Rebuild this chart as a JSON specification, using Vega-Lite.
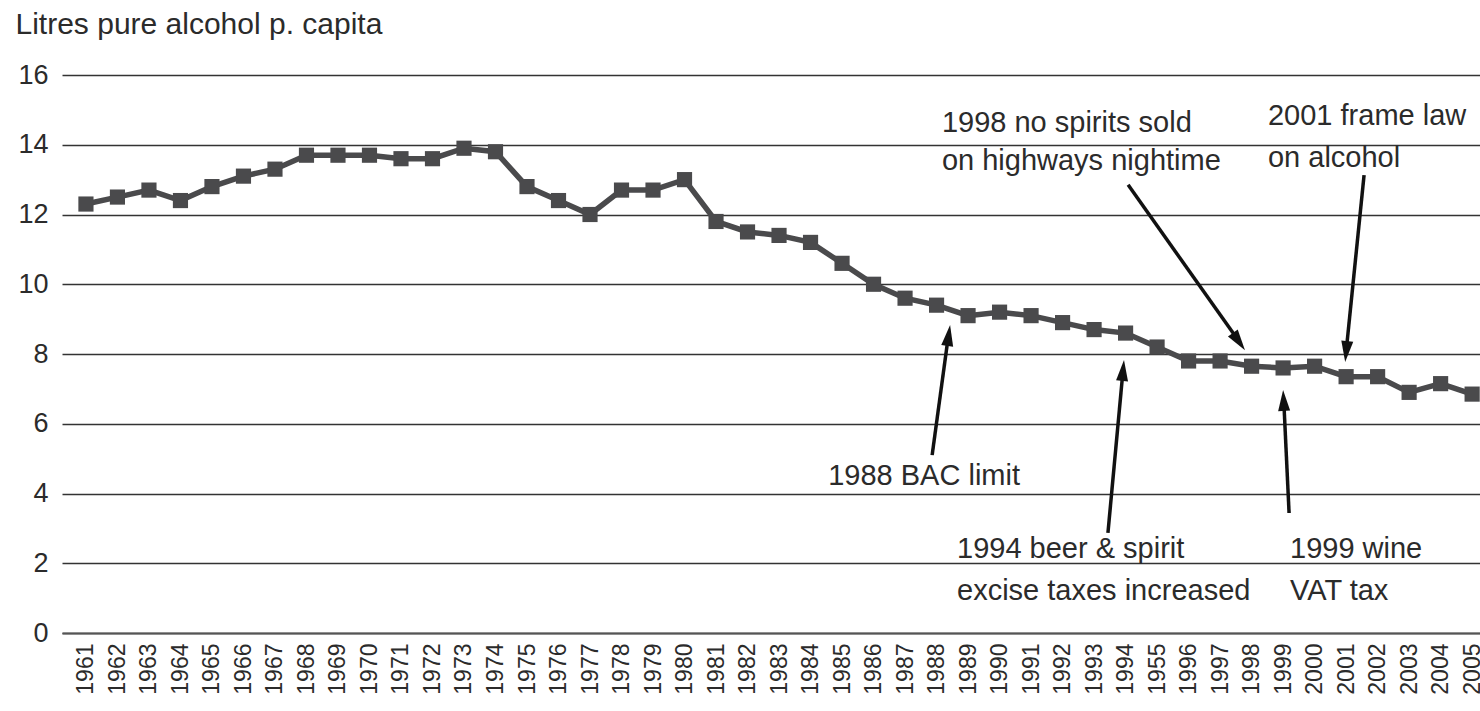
{
  "$schema": "https://vega.github.io/schema/vega-lite/v6.json",
  "width": 1418,
  "height": 558,
  "autosize": {"type": "none"},
  "padding": {"left": 62, "top": 75, "right": 0, "bottom": 78},
  "background": "white",
  "config": {
    "view": {"stroke": null},
    "font": "Liberation Sans",
    "text": {"font": "Liberation Sans"},
    "axisX": {"labelOverlap": false, "labelFontSize": 23, "labelAngle": 270, "labelFlush": false, "labelBound": false, "tickCount": 60}
  },
  "datasets": {
    "consumption": [
      {"year": 1961, "litres": 12.3}, {"year": 1962, "litres": 12.5}, {"year": 1963, "litres": 12.7},
      {"year": 1964, "litres": 12.4}, {"year": 1965, "litres": 12.8}, {"year": 1966, "litres": 13.1},
      {"year": 1967, "litres": 13.3}, {"year": 1968, "litres": 13.7}, {"year": 1969, "litres": 13.7},
      {"year": 1970, "litres": 13.7}, {"year": 1971, "litres": 13.6}, {"year": 1972, "litres": 13.6},
      {"year": 1973, "litres": 13.9}, {"year": 1974, "litres": 13.8}, {"year": 1975, "litres": 12.8},
      {"year": 1976, "litres": 12.4}, {"year": 1977, "litres": 12.0}, {"year": 1978, "litres": 12.7},
      {"year": 1979, "litres": 12.7}, {"year": 1980, "litres": 13.0}, {"year": 1981, "litres": 11.8},
      {"year": 1982, "litres": 11.5}, {"year": 1983, "litres": 11.4}, {"year": 1984, "litres": 11.2},
      {"year": 1985, "litres": 10.6}, {"year": 1986, "litres": 10.0}, {"year": 1987, "litres": 9.6},
      {"year": 1988, "litres": 9.4}, {"year": 1989, "litres": 9.1}, {"year": 1990, "litres": 9.2},
      {"year": 1991, "litres": 9.1}, {"year": 1992, "litres": 8.9}, {"year": 1993, "litres": 8.7},
      {"year": 1994, "litres": 8.6}, {"year": 1995, "litres": 8.2}, {"year": 1996, "litres": 7.8},
      {"year": 1997, "litres": 7.8}, {"year": 1998, "litres": 7.65}, {"year": 1999, "litres": 7.6},
      {"year": 2000, "litres": 7.65}, {"year": 2001, "litres": 7.35}, {"year": 2002, "litres": 7.35},
      {"year": 2003, "litres": 6.9}, {"year": 2004, "litres": 7.15}, {"year": 2005, "litres": 6.85}
    ],
    "arrows": [
      {"x": 1987.86, "y": 5.10, "x2": 1988.38, "y2": 8.55, "tx": 1988.43, "ty": 8.83, "angle": 7.9},
      {"x": 1993.44, "y": 2.87, "x2": 1993.92, "y2": 7.54, "tx": 1993.95, "ty": 7.83, "angle": 5.3},
      {"x": 1999.19, "y": 3.44, "x2": 1999.02, "y2": 6.68, "tx": 1999.0, "ty": 6.97, "angle": -2.8},
      {"x": 1994.08, "y": 12.85, "x2": 1997.61, "y2": 8.35, "tx": 1997.79, "ty": 8.11, "angle": 144.7},
      {"x": 2001.57, "y": 13.13, "x2": 2001.0, "y2": 8.06, "tx": 2000.97, "ty": 7.77, "angle": 185.8}
    ],
    "labels": [
      {"x": 1988.17, "y": 14.37, "text": "1998 no spirits sold"},
      {"x": 1988.17, "y": 13.28, "text": "on highways nightime"},
      {"x": 1998.52, "y": 14.57, "text": "2001 frame law"},
      {"x": 1998.52, "y": 13.36, "text": "on alcohol"},
      {"x": 1984.56, "y": 4.24, "text": "1988 BAC limit"},
      {"x": 1988.65, "y": 2.15, "text": "1994 beer & spirit"},
      {"x": 1988.65, "y": 0.95, "text": "excise taxes increased"},
      {"x": 1999.22, "y": 2.15, "text": "1999 wine"},
      {"x": 1999.22, "y": 0.95, "text": "VAT tax"}
    ]
  },
  "layer": [
    {
      "data": {"name": "consumption"},
      "mark": {"type": "line", "color": "#4a4a4c", "strokeWidth": 5.5, "clip": false},
      "encoding": {
        "x": {
          "field": "year", "type": "quantitative",
          "scale": {"domain": [1960.24, 2005.25], "nice": false, "zero": false},
          "axis": {
            "title": null,
            "values": [1961,1962,1963,1964,1965,1966,1967,1968,1969,1970,1971,1972,1973,1974,1975,1976,1977,1978,1979,1980,1981,1982,1983,1984,1985,1986,1987,1988,1989,1990,1991,1992,1993,1994,1995,1996,1997,1998,1999,2000,2001,2002,2003,2004,2005],
            "tickCount": 60,
            "format": "d",
            "labelExpr": "datum.value == 1995 ? '1955' : datum.label",
            "labelAngle": 270,
            "labelFontSize": 23,
            "labelColor": "#2b2b2b",
            "labelPadding": 10,
            "labelOverlap": false,
            "labelFlush": false,
            "labelBound": false,
            "ticks": false,
            "grid": false,
            "domain": true,
            "domainColor": "#555555",
            "domainWidth": 2
          }
        },
        "y": {
          "field": "litres", "type": "quantitative",
          "scale": {"domain": [0, 16], "nice": false},
          "axis": {
            "title": "Litres pure alcohol p. capita",
            "titleAngle": 0,
            "titleAlign": "left",
            "titleBaseline": "alphabetic",
            "titleX": -47,
            "titleY": -42,
            "titleFontSize": 30,
            "titleFontWeight": "normal",
            "titleColor": "#2b2b2b",
            "values": [0, 2, 4, 6, 8, 10, 12, 14, 16],
            "labelFontSize": 27,
            "labelColor": "#2b2b2b",
            "labelPadding": 14,
            "ticks": false,
            "domain": false,
            "grid": true,
            "gridColor": "#333333",
            "gridWidth": 1.3
          }
        }
      }
    },
    {
      "data": {"name": "consumption"},
      "mark": {"type": "point", "shape": "square", "filled": true, "size": 230, "color": "#4a4a4c", "opacity": 1, "clip": false},
      "encoding": {
        "x": {"field": "year", "type": "quantitative"},
        "y": {"field": "litres", "type": "quantitative"}
      }
    },
    {
      "data": {"name": "arrows"},
      "mark": {"type": "rule", "color": "#111111", "strokeWidth": 3.5},
      "encoding": {
        "x": {"field": "x", "type": "quantitative"},
        "y": {"field": "y", "type": "quantitative"},
        "x2": {"field": "x2"},
        "y2": {"field": "y2"}
      }
    },
    {
      "data": {"name": "arrows"},
      "mark": {"type": "point", "shape": "M0,0L0.6,2.1L-0.6,2.1Z", "filled": true, "size": 400, "color": "#111111", "opacity": 1},
      "encoding": {
        "x": {"field": "tx", "type": "quantitative"},
        "y": {"field": "ty", "type": "quantitative"},
        "angle": {"field": "angle", "type": "quantitative", "scale": null}
      }
    },
    {
      "data": {"name": "labels"},
      "mark": {"type": "text", "align": "left", "baseline": "alphabetic", "fontSize": 29, "color": "#2b2b2b", "clip": false},
      "encoding": {
        "x": {"field": "x", "type": "quantitative"},
        "y": {"field": "y", "type": "quantitative"},
        "text": {"field": "text"}
      }
    }
  ]
}
